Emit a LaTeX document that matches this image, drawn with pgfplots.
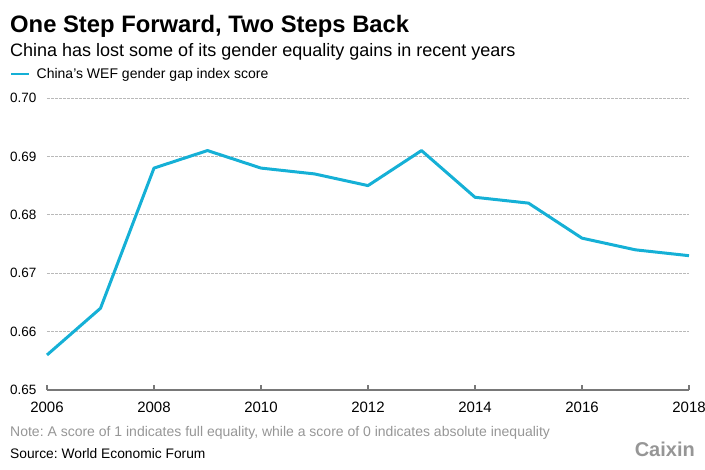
\documentclass[border=0pt]{standalone}
\usepackage{pgfplots}
\pgfplotsset{compat=1.18}
\usepackage{fontspec}
\setmainfont{Liberation Sans}
\frenchspacing

\definecolor{linecol}{RGB}{21,176,214}
\definecolor{gridcol}{RGB}{185,185,185}
\definecolor{axiscol}{RGB}{120,120,120}
\definecolor{notecol}{RGB}{150,150,150}

\begin{document}
\begin{tikzpicture}
\path[use as bounding box] (0,0) rectangle (705bp,470bp);

\node[anchor=base west, inner sep=0pt, font=\fontsize{23.8bp}{26bp}\selectfont\bfseries] at (10bp,437bp) {One Step Forward, Two Steps Back};
\node[anchor=base west, inner sep=0pt, font=\fontsize{18bp}{20bp}\selectfont] at (10bp,413bp) {China has lost some of its gender equality gains in recent years};

\begin{axis}[
    at={(47bp,80bp)}, anchor=south west,
    scale only axis, width=642bp, height=292bp,
    xmin=2006, xmax=2018, ymin=0.65, ymax=0.70,
    clip=false,
    axis x line*=bottom,
    axis y line*=left,
    y axis line style={draw=none},
    x axis line style={draw=axiscol, line width=1.5bp, -},
    xtick={2006,2008,...,2018},
    ytick={0.65,0.66,...,0.70},
    xtick align=inside,
    major tick length=5bp,
    xtick style={draw=axiscol, line width=1.2bp},
    ytick style={draw=none},
    ymajorgrids,
    major grid style={draw=gridcol, line width=1bp, dash pattern=on 2.5bp off 1.5bp},
    /pgf/number format/assume math mode=true,
    xticklabel style={font=\fontsize{15bp}{17bp}\selectfont, inner sep=0pt, yshift=-12bp, /pgf/number format/1000 sep={}},
    yticklabel style={font=\fontsize{13.5bp}{15bp}\selectfont, anchor=west, inner sep=0pt, xshift=-37bp, /pgf/number format/fixed, /pgf/number format/fixed zerofill, /pgf/number format/precision=2},
    legend style={at={(0,1)}, anchor=south west, xshift=-37bp, yshift=16bp, draw=none, fill=none, inner sep=0pt,
        font=\fontsize{14bp}{16bp}\selectfont, legend cell align=left},
    legend image code/.code={\draw[#1, line width=2bp] (0bp,0bp) -- (18bp,0bp); \path (22bp,0bp);},
]
\addplot[linecol, line width=3bp, line join=round] coordinates {
    (2006,0.656) (2007,0.664) (2008,0.688) (2009,0.691) (2010,0.688)
    (2011,0.687) (2012,0.685) (2013,0.691) (2014,0.683) (2015,0.682)
    (2016,0.676) (2017,0.674) (2018,0.673)
};
\addlegendentry{China's WEF gender gap index score}
\end{axis}

\node[anchor=base west, inner sep=0pt, text=notecol, font=\fontsize{14bp}{16bp}\selectfont] at (10bp,34bp) {Note: A score of 1 indicates full equality, while a score of 0 indicates absolute inequality};
\node[anchor=base west, inner sep=0pt, font=\fontsize{13.8bp}{15bp}\selectfont] at (10bp,12bp) {Source: World Economic Forum};
\node[anchor=base east, inner sep=0pt, text=notecol, font=\fontsize{20bp}{22bp}\selectfont\bfseries] at (695bp,13.5bp) {Caixin};
\end{tikzpicture}
\end{document}
